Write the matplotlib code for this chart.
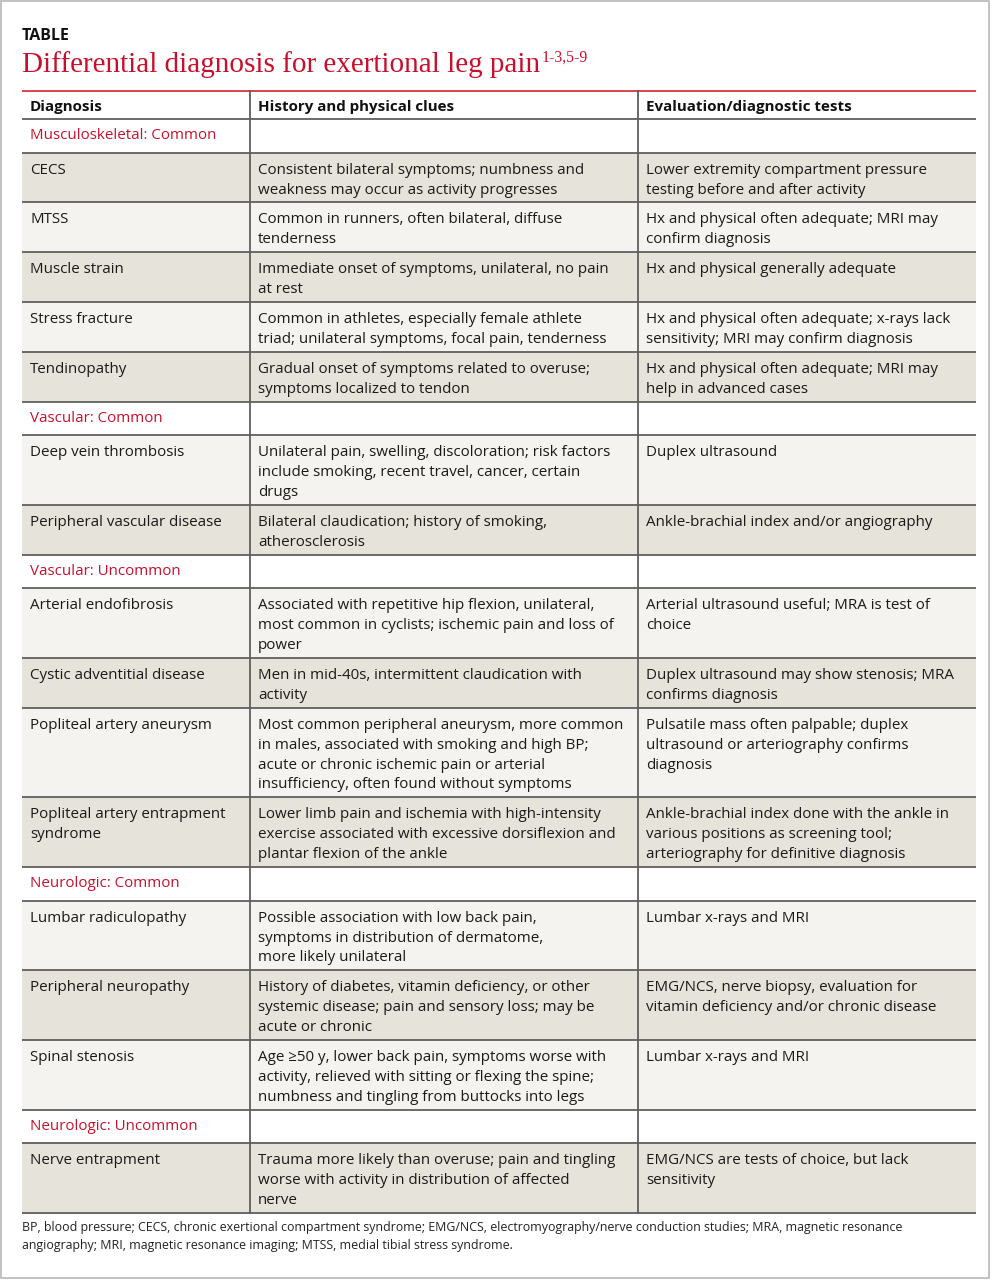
import matplotlib
matplotlib.use('Agg')
import matplotlib.pyplot as plt
from matplotlib.patches import Rectangle

# Table content
headers = ['Diagnosis', 'History and physical clues', 'Evaluation/diagnostic tests']

sections = [
    ('Musculoskeletal: Common', [
        ('CECS',
         'Consistent bilateral symptoms; numbness and\nweakness may occur as activity progresses',
         'Lower extremity compartment pressure\ntesting before and after activity'),
        ('MTSS',
         'Common in runners, often bilateral, diffuse\ntenderness',
         'Hx and physical often adequate; MRI may\nconfirm diagnosis'),
        ('Muscle strain',
         'Immediate onset of symptoms, unilateral, no pain\nat rest',
         'Hx and physical generally adequate'),
        ('Stress fracture',
         'Common in athletes, especially female athlete\ntriad; unilateral symptoms, focal pain, tenderness',
         'Hx and physical often adequate; x-rays lack\nsensitivity; MRI may confirm diagnosis'),
        ('Tendinopathy',
         'Gradual onset of symptoms related to overuse;\nsymptoms localized to tendon',
         'Hx and physical often adequate; MRI may\nhelp in advanced cases'),
    ]),
    ('Vascular: Common', [
        ('Deep vein thrombosis',
         'Unilateral pain, swelling, discoloration; risk factors\ninclude smoking, recent travel, cancer, certain\ndrugs',
         'Duplex ultrasound'),
        ('Peripheral vascular disease',
         'Bilateral claudication; history of smoking,\natherosclerosis',
         'Ankle-brachial index and/or angiography'),
    ]),
    ('Vascular: Uncommon', [
        ('Arterial endofibrosis',
         'Associated with repetitive hip flexion, unilateral,\nmost common in cyclists; ischemic pain and loss of\npower',
         'Arterial ultrasound useful; MRA is test of\nchoice'),
        ('Cystic adventitial disease',
         'Men in mid-40s, intermittent claudication with\nactivity',
         'Duplex ultrasound may show stenosis; MRA\nconfirms diagnosis'),
        ('Popliteal artery aneurysm',
         'Most common peripheral aneurysm, more common\nin males, associated with smoking and high BP;\n'
         'acute or chronic ischemic pain or arterial\ninsufficiency, often found without symptoms',
         'Pulsatile mass often palpable; duplex\nultrasound or arteriography confirms\ndiagnosis'),
        ('Popliteal artery entrapment\nsyndrome',
         'Lower limb pain and ischemia with high-intensity\nexercise associated with excessive dorsiflexion and\nplantar flexion of the ankle',
         'Ankle-brachial index done with the ankle in\nvarious positions as screening tool;\narteriography for definitive diagnosis'),
    ]),
    ('Neurologic: Common', [
        ('Lumbar radiculopathy',
         'Possible association with low back pain,\nsymptoms in distribution of dermatome,\nmore likely unilateral',
         'Lumbar x-rays and MRI'),
        ('Peripheral neuropathy',
         'History of diabetes, vitamin deficiency, or other\nsystemic disease; pain and sensory loss; may be\nacute or chronic',
         'EMG/NCS, nerve biopsy, evaluation for\nvitamin deficiency and/or chronic disease'),
        ('Spinal stenosis',
         'Age \u226550 y, lower back pain, symptoms worse with\nactivity, relieved with sitting or flexing the spine;\nnumbness and tingling from buttocks into legs',
         'Lumbar x-rays and MRI'),
    ]),
    ('Neurologic: Uncommon', [
        ('Nerve entrapment',
         'Trauma more likely than overuse; pain and tingling\nworse with activity in distribution of affected\nnerve',
         'EMG/NCS are tests of choice, but lack\nsensitivity'),
    ]),
]

footnote = ['BP, blood pressure; CECS, chronic exertional compartment syndrome; EMG/NCS, '
            'electromyography/nerve conduction studies; MRA, magnetic resonance',
            'angiography; MRI, magnetic resonance imaging; MTSS, medial tibial stress syndrome.']

RED = '#c8102e'
DARK = '#e6e3da'
LIGHT = '#f4f3ef'
LINE = '#5f5f5f'
INK = '#1a1a1a'
SANS = 'Open Sans'

fig = plt.figure(figsize=(10, 12.8), dpi=100)
ax = fig.add_axes([0, 0, 1, 1])
ax.set_xlim(0, 1000)
ax.set_ylim(1280, 0)
ax.axis('off')
renderer = fig.canvas.get_renderer()


def fit_size(s, target_px, **kw):
    # font size that makes string s about target_px wide
    t = ax.text(0, 0, s, fontsize=10, **kw)
    w = t.get_window_extent(renderer).width
    t.remove()
    return 10 * target_px / w


body_fs = fit_size('Consistent bilateral symptoms; numbness and', 327, family=SANS)
foot_fs = fit_size(footnote[0], 876, family=SANS)

# outer frame
ax.add_patch(Rectangle((1, 1), 988, 1277, fill=False, ec='#b8b8b8', lw=1.2))

# titles
ax.text(22, 40, 'TABLE', family=SANS, fontweight='bold', fontsize=11.5,
        va='baseline', color='#111111')
tfs = fit_size('Differential diagnosis for exertional leg pain', 518, family='Liberation Serif')
title = ax.text(22, 72, 'Differential diagnosis for exertional leg pain',
                family='Liberation Serif', fontsize=tfs, color=RED, va='baseline')
tx1 = ax.transData.inverted().transform(title.get_window_extent(renderer))[1][0]
ax.text(tx1 + 1, 62, '1-3,5-9', family='Liberation Serif', fontsize=tfs * 0.54,
        color=RED, va='baseline')

xl, xr = 22, 976
cols = [22, 250, 638]
pad_x = 8
lh = 19.9


def cell(x, ytop, txt, **kw):
    for i, line in enumerate(txt.split('\n')):
        ax.text(x, ytop + 21 + i * lh, line, family=SANS, fontsize=body_fs,
                va='baseline', **kw)


# header
y = 91
ax.plot([xl, xr], [y, y], color='#d9434f', lw=1.4, solid_capstyle='butt')
for cx, h in zip(cols, headers):
    ax.text(cx + pad_x, y + 20, h, family=SANS, fontweight='bold', fontsize=body_fs,
            va='baseline', color='#111111')
y += 28
hlines = [y]

k = 0
for cat, rows in sections:
    hgt = 33.6
    ax.text(cols[0] + pad_x, y + 20, cat, family=SANS, fontsize=body_fs,
            va='baseline', color=RED)
    y += hgt
    hlines.append(y)
    for row in rows:
        k += 1
        n = max(c.count('\n') + 1 for c in row)
        hgt = 10 + lh * n
        ax.add_patch(Rectangle((xl, y), xr - xl, hgt, fc=DARK if k % 2 else LIGHT,
                               ec='none', zorder=0))
        for cx, txt in zip(cols, row):
            cell(cx + pad_x, y, txt, color=INK)
        y += hgt
        hlines.append(y)

for hy in hlines:
    ax.plot([xl, xr], [hy, hy], color=LINE, lw=1.3, solid_capstyle='butt', zorder=2)
for cx in cols[1:]:
    ax.plot([cx, cx], [91, hlines[-1]], color=LINE, lw=1.3, zorder=2)

for i, line in enumerate(footnote):
    ax.text(22, 1231 + i * 18, line, family=SANS, fontsize=foot_fs, va='baseline',
            color='#222222')

fig.savefig('out.png', dpi=100)
plt.close(fig)
